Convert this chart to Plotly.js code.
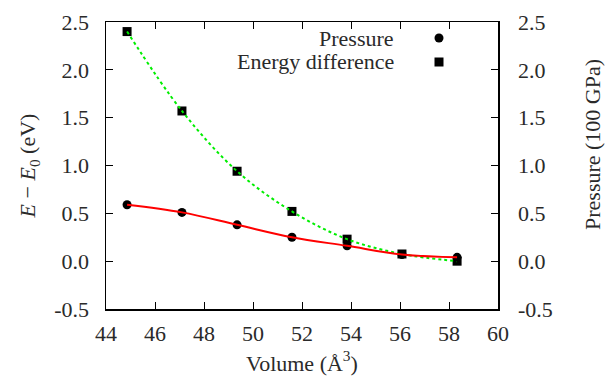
<!DOCTYPE html>
<html>
<head>
<meta charset="utf-8">
<script src="https://cdn.plot.ly/plotly-3.0.1.min.js"></script>
<style>html,body{margin:0;padding:0;background:#fff;}#chart{width:606px;height:379px;}</style>
</head>
<body>
<div id="chart"></div>
<script>
const volume = [44.86, 47.10, 49.35, 51.59, 53.84, 56.08, 58.33];
const energyDiff = [2.40, 1.57, 0.94, 0.52, 0.23, 0.075, 0.00];
const pressure = [0.59, 0.51, 0.38, 0.25, 0.16, 0.07, 0.04];
const xTicks = [44, 46, 48, 50, 52, 54, 56, 58, 60];
const yTickVals = [-0.5, 0, 0.5, 1, 1.5, 2, 2.5];
const yTickText = ['-0.5', '0.0', '0.5', '1.0', '1.5', '2.0', '2.5'];
const seriesNames = ['Pressure', 'Energy difference'];

const FONT = '"Liberation Serif", serif';
const TXT = '#2a2a2a';
const FS = 22;

const traces = [
  {x: volume, y: pressure, yaxis: 'y2', mode: 'markers', name: seriesNames[0],
   marker: {symbol: 'circle', size: 9, color: '#000'}, hoverinfo: 'skip'},
  {x: volume, y: energyDiff, yaxis: 'y', mode: 'markers', name: seriesNames[1],
   marker: {symbol: 'square', size: 9, color: '#000'}, hoverinfo: 'skip'},
  {x: volume, y: pressure, yaxis: 'y2', mode: 'lines', name: 'Pressure fit',
   line: {color: '#ff0000', width: 2, shape: 'spline', smoothing: 1}, hoverinfo: 'skip'},
  {x: volume, y: energyDiff, yaxis: 'y', mode: 'lines', name: 'Energy fit',
   line: {color: '#00ee00', width: 2, dash: 'dot', shape: 'spline', smoothing: 1}, hoverinfo: 'skip'}
];

const axisCommon = {
  ticks: 'inside', ticklen: 7, tickwidth: 1, tickcolor: '#000',
  showline: true, linecolor: '#000', linewidth: 1.5,
  showgrid: false, zeroline: false,
  tickfont: {family: FONT, size: FS, color: TXT}
};

const layout = {
  width: 606, height: 379,
  margin: {l: 106, r: 108, t: 22, b: 70, pad: 0},
  paper_bgcolor: '#fff', plot_bgcolor: '#fff',
  showlegend: false,
  font: {family: FONT, size: FS, color: TXT},
  xaxis: Object.assign({}, axisCommon, {
    range: [44, 60], tickvals: xTicks, mirror: 'ticks', ticklabelstandoff: 4,
    title: {text: 'Volume (Å<sup>3</sup>)', font: {family: FONT, size: FS, color: TXT}, standoff: 10}
  }),
  yaxis: Object.assign({}, axisCommon, {
    range: [-0.5, 2.5], tickvals: yTickVals, ticktext: yTickText, mirror: true, ticklabelstandoff: 11,
    title: {text: '<i>E</i> − <i>E</i><sub>0</sub> (eV)', font: {family: FONT, size: FS, color: TXT}, standoff: 12}
  }),
  yaxis2: Object.assign({}, axisCommon, {
    range: [-0.5, 2.5], tickvals: yTickVals, ticktext: yTickText, overlaying: 'y', side: 'right',
    ticklabelstandoff: 14
  }),
  annotations: [
    {xref: 'paper', yref: 'paper', x: (396 - 106) / 392, y: (309 - 38) / 287, xanchor: 'right', yanchor: 'middle',
     text: seriesNames[0], showarrow: false, font: {family: FONT, size: FS, color: TXT}},
    {xref: 'paper', yref: 'paper', x: (396 - 106) / 392, y: (309 - 62) / 287, xanchor: 'right', yanchor: 'middle',
     text: seriesNames[1], showarrow: false, font: {family: FONT, size: FS, color: TXT}},
    {xref: 'paper', yref: 'paper', x: (592 - 106) / 392, y: (309 - 145) / 287, xanchor: 'center', yanchor: 'middle',
     textangle: -90, text: 'Pressure (100 GPa)', showarrow: false, font: {family: FONT, size: FS, color: TXT}}
  ],
  shapes: [
    {type: 'circle', xref: 'paper', yref: 'paper', xsizemode: 'pixel', ysizemode: 'pixel',
     xanchor: (439 - 106) / 392, yanchor: (309 - 38) / 287, x0: -4.5, x1: 4.5, y0: -4.5, y1: 4.5,
     fillcolor: '#000', line: {width: 0}},
    {type: 'rect', xref: 'paper', yref: 'paper', xsizemode: 'pixel', ysizemode: 'pixel',
     xanchor: (439 - 106) / 392, yanchor: (309 - 62) / 287, x0: -4.5, x1: 4.5, y0: -4.5, y1: 4.5,
     fillcolor: '#000', line: {width: 0}}
  ]
};

Plotly.newPlot('chart', traces, layout, {staticPlot: true, displayModeBar: false});
</script>
</body>
</html>
